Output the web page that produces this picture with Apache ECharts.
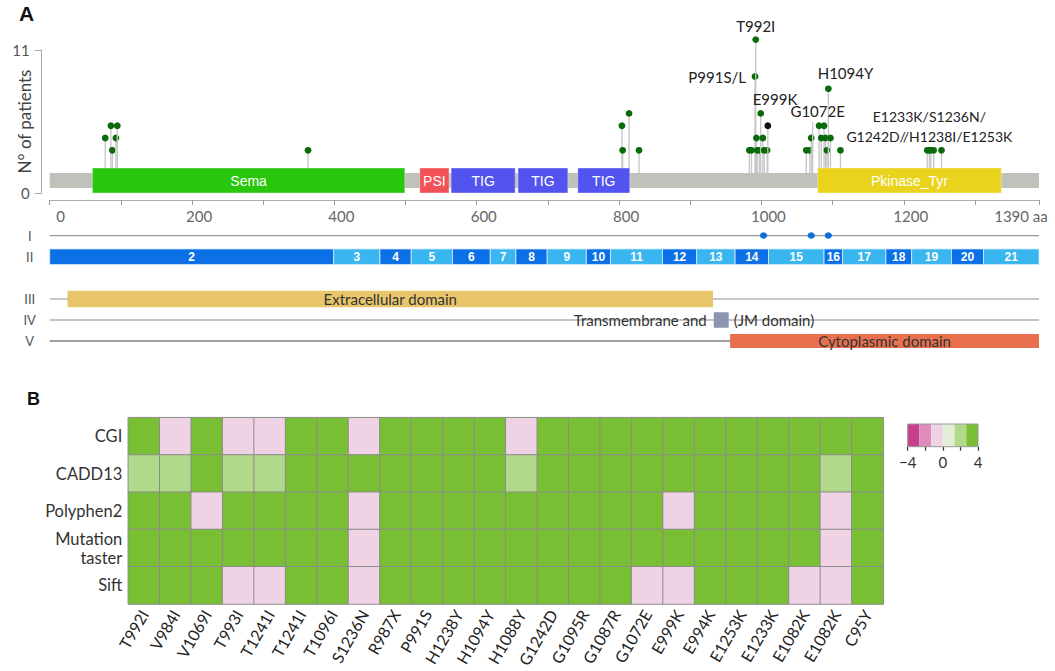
<!DOCTYPE html>
<html><head><meta charset="utf-8">
<script src="https://cdn.jsdelivr.net/npm/echarts@6/dist/echarts.min.js"></script>
<style>html,body{margin:0;padding:0;background:#fff}#c{width:1055px;height:671px}</style>
</head><body><div id="c"></div>
<script>
// ---------- DATA ----------
const xTickValues = [0,100,200,300,400,500,600,700,800,900,1000,1100,1200,1300,1390];
const xLabelValues = [0,200,400,600,800,1000,1200,1390];
const yTickValues = [0, 11];

const domainNames = ['Sema','PSI','TIG','TIG','TIG','Pkinase_Tyr'];
const domainStart = [60, 520, 564, 658, 742, 1079];
const domainEnd   = [499, 561, 654, 728, 815, 1337];

// lollipops: position (aa), patient count, kind (g = green dot, b = black dot, s = stem only), label
const mutPos   = [78, 86, 88, 93, 95, 363, 804, 805, 814, 828, 983, 986, 991, 992, 993, 994, 997, 999, 1002, 1004, 1008, 1009, 1063, 1068, 1070, 1072, 1081, 1084, 1088, 1090, 1092, 1094, 1097, 1111, 1233, 1236, 1238, 1242, 1253];
const mutCount = [2, 3, 1, 2, 3, 1, 3, 1, 4, 1, 1, 1, 7, 10, 2, 1, 1, 4, 2, 1, 1, 3, 1, 1, 2, 3.3, 3, 2, 3, 2, 1, 6, 2, 1, 1, 1, 1, 1, 1];
const mutKind  = ['g','g','g','g','g','g','g','g','g','g','g','g','g','g','g','g','g','g','g','g','g','b','g','g','g','s','g','g','g','g','g','g','g','g','g','g','g','g','g'];
const mutLabel = ['','','','','','','','','','','','','P991S/L','T992I','','','','E999K','','','','','','','','G1072E','','','','','','H1094Y','','','','E1233K/S1236N/\nG1242D//H1238I/E1253K','','',''];

const hotspotPos = [1003, 1070, 1094];

const exonNames = ['2','3','4','5','6','7','8','9','10','11','12','13','14','15','16','17','18','19','20','21'];
const exonStart = [0, 399, 464, 508, 566, 619, 655, 699, 754, 788, 861, 909, 963, 1010, 1088, 1114, 1175, 1211, 1267, 1312];
const exonEnd   = [399, 464, 508, 566, 619, 655, 699, 754, 788, 861, 909, 963, 1010, 1088, 1114, 1175, 1211, 1267, 1312, 1390];

const regionLabels = ['Extracellular domain', 'Transmembrane and|(JM domain)', 'Cytoplasmic domain'];
const regionStart = [25, 933, 956];
const regionEnd   = [932, 954, 1390];
const regionRows  = [4, 5, 6];

const trackNames = ['I','II','III','IV','V'];
const trackRows  = [1, 2, 4, 5, 6];

const heatCols = ['T992I','V984I','V1069I','T993I','T1241I','T1241I','T1096I','S1236N','R987X','P991S','H1238Y','H1094Y','H1088Y','G1242D','G1095R','G1087R','G1072E','E999K','E994K','E1253K','E1233K','E1082K','E1082K','C95Y'];
const heatRows = ['CGI','CADD13','Polyphen2','Mutation\ntaster','Sift'];
const scoreCGI       = [4,-1,4,-1,-1,4,4,-1,4,4,4,4,-1,4,4,4,4,4,4,4,4,4,4,4];
const scoreCADD13    = [2,2,4,2,2,4,4,4,4,4,4,4,2,4,4,4,4,4,4,4,4,4,2,4];
const scorePolyphen2 = [4,4,-1,4,4,4,4,-1,4,4,4,4,4,4,4,4,4,-1,4,4,4,4,-1,4];
const scoreMutTaster = [4,4,4,4,4,4,4,-1,4,4,4,4,4,4,4,4,4,4,4,4,4,4,-1,4];
const scoreSift      = [4,4,4,-1,-1,4,4,-1,4,4,4,4,4,4,4,4,-1,-1,4,4,4,-1,-1,4];

const legendEdges = [-4, -2.667, -1.333, 0, 1.333, 2.667, 4];
const legendTicks = [-4, -2, 0, 2, 4];
const legendLabels = [-4, 0, 4];

// ---------- STYLE ----------
const FONT = 'Lato';
const domainColors = ['#28c70e','#f25157','#5353ef','#5353ef','#5353ef','#e9d31d'];
const heatColors = ['#c8408c','#de8cbd','#efd3e4','#e2efd6','#b1d98a','#79bf34'];
const regionColors = ['#e8c56b','#8b97b1','#e9704f'];
const regionHeights = [16.5, 15.5, 14];
const trackLineColors = ['#999999', null, '#c8c8c8', '#c4c4c4', '#808080'];
const trackLineWidths = [1.3, 0, 2, 2, 1.5];
const labelPlace = {
  'T992I':   {dx: 0,   dy: -14, align: 'center', size: 15},
  'P991S/L': {dx: -9,  dy: 0,   align: 'right', size: 15},
  'E999K':   {dx: -8,  dy: -14, align: 'left', size: 15},
  'G1072E':  {dx: 5,   dy: -11, align: 'center', size: 15},
  'H1094Y':  {dx: -10.6, dy: -16, align: 'left', size: 15},
  'E1233K/S1236N/\nG1242D//H1238I/E1253K': {dx: 0, dy: -23.6, align: 'center', size: 14}
};

const scoreRows = [scoreCGI, scoreCADD13, scorePolyphen2, scoreMutTaster, scoreSift];
const heatData = [];
scoreRows.forEach((row, r) => row.forEach((v, c) => heatData.push([c, r, v])));

const pieces = heatColors.map((c, i) => i === heatColors.length - 1
  ? {gte: legendEdges[i], lte: legendEdges[i+1], color: c}
  : {gte: legendEdges[i], lt: legendEdges[i+1], color: c});

const chart = echarts.init(document.getElementById('c'), null, {renderer: 'svg'});

const option = {
  animation: false,
  textStyle: {fontFamily: FONT},
  title: [
    {text: 'A', left: 19, top: 3, padding: 0, textStyle: {fontSize: 21, fontWeight: 'bold', fontFamily: 'Liberation Sans', color: '#111'}},
    {text: 'B', left: 27, top: 390, padding: 0, textStyle: {fontSize: 18, fontWeight: 'bold', fontFamily: 'Liberation Sans', color: '#111'}}
  ],
  grid: [
    {left: 49.7, right: 16, top: 50, height: 143, outerBoundsMode: 'none', containLabel: false},
    {left: 49.7, right: 16, top: 214.5, height: 147.7, outerBoundsMode: 'none', containLabel: false},
    {left: 128.3, width: 755, top: 417.7, height: 186.3, outerBoundsMode: 'none', containLabel: false},
    {left: 907.7, width: 70.3, top: 424, height: 22.7, outerBoundsMode: 'none', containLabel: false}
  ],
  xAxis: [
    {gridIndex: 0, type: 'value', min: 0, max: 1390, offset: 7,
     axisLine: {show: true, onZero: false, lineStyle: {color: '#aaa', width: 1}},
     axisTick: {show: true, customValues: xTickValues, length: 5, lineStyle: {color: '#999'}},
     axisLabel: {customValues: xLabelValues, fontSize: 15, color: '#666', margin: 8, padding: [0,0,0,14],
       formatter: v => v === 1390 ? '{e|1390 aa}' : (v === 0 ? '{z|0}' : String(v)),
       rich: {e: {fontSize: 15, color: '#666', fontFamily: FONT, padding: [0,50,0,0]},
              z: {fontSize: 15, color: '#666', fontFamily: FONT, padding: [0,0,0,8]}}},
     splitLine: {show: false}},
    {gridIndex: 1, type: 'value', min: 0, max: 1390, show: false},
    {gridIndex: 2, type: 'category', data: heatCols,
     axisLine: {show: false}, axisTick: {show: false},
     axisLabel: {interval: 0, rotate: 60, fontSize: 16, color: '#222', margin: 7}},
    {gridIndex: 3, type: 'value', min: -4, max: 4,
     axisLine: {show: false},
     axisTick: {show: true, customValues: legendTicks, length: 4, lineStyle: {color: '#333', width: 1.2}},
     axisLabel: {customValues: legendLabels, fontSize: 15, color: '#333', margin: 8,
       formatter: v => String(v).replace('-', '\u2212')},
     splitLine: {show: false}}
  ],
  yAxis: [
    {gridIndex: 0, type: 'value', position: 'left', min: 0, max: 11, interval: 11, offset: 8,
     axisLine: {show: true, onZero: false, lineStyle: {color: '#a8a8a8', width: 1}},
     axisTick: {show: true, customValues: yTickValues, length: 7, lineStyle: {color: '#a8a8a8'}},
     axisLabel: {customValues: yTickValues, fontSize: 15, color: '#555', margin: 12},
     splitLine: {show: false},
     name: 'N° of patients', nameLocation: 'middle', nameRotate: 90, nameGap: 9, nameMoveOverlap: false,
     nameTextStyle: {fontSize: 17, color: '#444', fontFamily: FONT}},
    {gridIndex: 0, type: 'value', position: 'right', min: -2.47, max: 9.156, show: false},
    {gridIndex: 1, type: 'value', min: 0, max: 7, inverse: true,
     axisLine: {show: false}, axisTick: {show: false}, splitLine: {show: false},
     axisLabel: {customValues: trackRows, formatter: v => trackNames[trackRows.indexOf(v)],
       align: 'center', margin: 20, fontSize: 13, color: '#555'}},
    {gridIndex: 2, type: 'category', data: heatRows, inverse: true,
     axisLine: {show: false}, axisTick: {show: false},
     axisLabel: {fontSize: 16.5, color: '#333', margin: 6, lineHeight: 19, align: 'right'}},
    {gridIndex: 3, type: 'value', min: 0, max: 1, show: false}
  ],
  visualMap: {type: 'piecewise', show: false, seriesIndex: 7, dimension: 2, pieces: pieces},
  series: [
    // 0 backbone
    {type: 'custom', xAxisIndex: 0, yAxisIndex: 1, z: 1, data: [[0, 1390]],
     renderItem(params, api) {
       const a = api.coord([api.value(0), 0]), b = api.coord([api.value(1), 0]);
       const cs = params.coordSys, yb = cs.y + cs.height;
       return {type: 'rect', shape: {x: a[0], y: yb - 20, width: b[0] - a[0], height: 15}, style: {fill: '#c0c1ba'}};
     }},
    // 1 domains
    {type: 'custom', xAxisIndex: 0, yAxisIndex: 1, z: 3,
     data: domainNames.map((n, i) => [domainStart[i], domainEnd[i]]),
     renderItem(params, api) {
       const i = params.dataIndex;
       const a = api.coord([api.value(0), 0]), b = api.coord([api.value(1), 0]);
       const cs = params.coordSys, yb = cs.y + cs.height;
       return {type: 'group', children: [
         {type: 'rect', shape: {x: a[0], y: yb - 25, width: b[0] - a[0], height: 25},
          style: {fill: domainColors[i], stroke: 'rgba(255,255,255,0.35)', lineWidth: 1}},
         {type: 'text', style: {text: domainNames[i], x: (a[0] + b[0]) / 2, y: yb - 12.5, align: 'center', verticalAlign: 'middle',
           fill: '#fff', font: '14px "Liberation Sans"'}}
       ]};
     }},
    // 2 lollipops
    {type: 'custom', xAxisIndex: 0, yAxisIndex: 1, z: 2,
     data: mutPos.map((p, i) => [p, mutCount[i]]),
     renderItem(params, api) {
       const i = params.dataIndex;
       const p = api.coord([api.value(0), api.value(1)]);
       const cs = params.coordSys, yb = cs.y + cs.height;
       const ch = [{type: 'line', shape: {x1: p[0], y1: yb - 20, x2: p[0], y2: p[1]}, style: {stroke: '#c6c6c6', lineWidth: 1.3}}];
       if (mutKind[i] !== 's') ch.push({type: 'circle', shape: {cx: p[0], cy: p[1], r: 3.4}, style: {fill: mutKind[i] === 'b' ? '#111' : '#0b6b0b'}});
       const lab = mutLabel[i];
       if (lab) {
         const o = labelPlace[lab];
         ch.push({type: 'text', z2: 10, style: {text: lab, x: p[0] + o.dx, y: p[1] + o.dy, align: o.align, verticalAlign: 'middle',
           fill: '#222', font: o.size + 'px Lato', lineHeight: 20}});
       }
       return {type: 'group', children: ch};
     }},
    // 3 track lines
    {type: 'custom', xAxisIndex: 1, yAxisIndex: 2, z: 1,
     data: trackRows.map((r, i) => [r, i]),
     renderItem(params, api) {
       const i = params.dataIndex;
       if (!trackLineColors[i]) return null;
       const a = api.coord([0, api.value(0)]), b = api.coord([1390, api.value(0)]);
       return {type: 'line', shape: {x1: a[0], y1: a[1], x2: b[0], y2: b[1]}, style: {stroke: trackLineColors[i], lineWidth: trackLineWidths[i]}};
     }},
    // 4 hotspot dots (row I)
    {type: 'custom', xAxisIndex: 1, yAxisIndex: 2, z: 3,
     data: hotspotPos.map(p => [p, trackRows[0]]),
     renderItem(params, api) {
       const p = api.coord([api.value(0), api.value(1)]);
       return {type: 'circle', shape: {cx: p[0], cy: p[1], r: 3.2}, scaleX: 1.15, originX: p[0], originY: p[1], style: {fill: '#0d6fdb'}};
     }},
    // 5 exons (row II)
    {type: 'custom', xAxisIndex: 1, yAxisIndex: 2, z: 3,
     data: exonNames.map((n, i) => [exonStart[i], exonEnd[i], trackRows[1]]),
     renderItem(params, api) {
       const i = params.dataIndex;
       const a = api.coord([api.value(0), api.value(2)]), b = api.coord([api.value(1), api.value(2)]);
       const h = 15.5;
       return {type: 'group', children: [
         {type: 'rect', shape: {x: a[0], y: a[1] - h / 2, width: b[0] - a[0], height: h},
          style: {fill: i % 2 === 0 ? '#0b6fe6' : '#39b5f0', stroke: '#d6ecfb', lineWidth: 0.8}},
         {type: 'text', style: {text: exonNames[i], x: (a[0] + b[0]) / 2, y: a[1], align: 'center', verticalAlign: 'middle',
           fill: '#fff', font: 'bold 12px "Liberation Sans"'}}
       ]};
     }},
    // 6 regions (rows III - V)
    {type: 'custom', xAxisIndex: 1, yAxisIndex: 2, z: 3,
     data: regionLabels.map((n, i) => [regionStart[i], regionEnd[i], regionRows[i]]),
     renderItem(params, api) {
       const i = params.dataIndex;
       const a = api.coord([api.value(0), api.value(2)]), b = api.coord([api.value(1), api.value(2)]);
       const h = regionHeights[i];
       const ch = [{type: 'rect', shape: {x: a[0], y: a[1] - h / 2, width: b[0] - a[0], height: h}, style: {fill: regionColors[i]}}];
       const parts = regionLabels[i].split('|');
       const font = '15px Lato';
       if (parts.length === 1) {
         ch.push({type: 'text', style: {text: parts[0], x: (a[0] + b[0]) / 2, y: a[1], align: 'center', verticalAlign: 'middle', fill: '#333', font}});
       } else {
         ch.push({type: 'text', style: {text: parts[0], x: a[0] - 7, y: a[1], align: 'right', verticalAlign: 'middle', fill: '#333', font}});
         ch.push({type: 'text', style: {text: parts[1], x: b[0] + 5, y: a[1], align: 'left', verticalAlign: 'middle', fill: '#333', font}});
       }
       return {type: 'group', children: ch};
     }},
    // 7 heatmap
    {type: 'heatmap', xAxisIndex: 2, yAxisIndex: 3, data: heatData,
     itemStyle: {borderColor: '#8c8c8c', borderWidth: 1},
     emphasis: {disabled: true}},
    // 8 legend bins
    {type: 'custom', xAxisIndex: 3, yAxisIndex: 4, z: 2,
     data: heatColors.map((c, i) => [legendEdges[i], legendEdges[i + 1]]),
     renderItem(params, api) {
       const i = params.dataIndex;
       const a = api.coord([api.value(0), 1]), b = api.coord([api.value(1), 0]);
       return {type: 'rect', shape: {x: a[0], y: a[1], width: b[0] - a[0], height: b[1] - a[1]}, style: {fill: heatColors[i]}};
     }},
    // 9 legend outline
    {type: 'custom', xAxisIndex: 3, yAxisIndex: 4, z: 3,
     data: [[legendEdges[0], legendEdges[legendEdges.length - 1]]],
     renderItem(params, api) {
       const a = api.coord([api.value(0), 1]), b = api.coord([api.value(1), 0]);
       return {type: 'rect', shape: {x: a[0], y: a[1], width: b[0] - a[0], height: b[1] - a[1]}, style: {fill: 'none', stroke: '#999', lineWidth: 1}};
     }}
  ]
};
chart.setOption(option);
</script>
</body></html>
